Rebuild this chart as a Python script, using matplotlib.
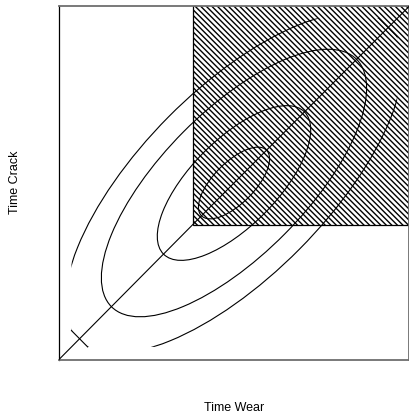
import numpy as np
import matplotlib
matplotlib.use("Agg")
import matplotlib.pyplot as plt
from matplotlib.patches import Ellipse, Rectangle, Polygon

# joint distribution of wear and crack times, drawn as 45-degree contour ellipses
center = (0.5, 0.5)
ellipse_semi_major = [0.131, 0.284, 0.494, 0.627]
ellipse_semi_minor = [0.058, 0.122, 0.204, 0.264]
contour_box = (0.037, 0.965)

# region where both times exceed the threshold
threshold_wear = 0.383
threshold_crack = 0.381


def edge_crossing(x_edge, a, b):
    """y where the rotated ellipse meets the vertical line x = x_edge, nearest the diagonal."""
    dx = x_edge - center[0]
    p, q = 1 / (2 * a * a), 1 / (2 * b * b)
    # p*(dx+dy)^2 + q*(dy-dx)^2 = 1
    roots = np.roots([p + q, 2 * dx * (p - q), dx * dx * (p + q) - 1])
    roots = roots[np.isreal(roots)].real
    dy = roots[np.argmin(np.abs(roots - dx))]
    return center[1] + dy


plt.rcParams["font.family"] = ["Liberation Sans", "DejaVu Sans"]
plt.rcParams["hatch.linewidth"] = 1.0

fig = plt.figure(figsize=(4.09, 4.17), dpi=100)
ax = fig.add_axes([58.5 / 409, 57 / 417, 351 / 409, 354 / 417])
ax.set_xlim(0, 1)
ax.set_ylim(0, 1)
ax.set_xticks([])
ax.set_yticks([])

ax.add_patch(Rectangle((threshold_wear, threshold_crack), 1.2, 1.2,
                       facecolor="white", edgecolor="black", hatch="\\" * 6,
                       linewidth=0.9, zorder=1))

lo, hi = contour_box
for i, (a, b) in enumerate(zip(ellipse_semi_major, ellipse_semi_minor)):
    e = Ellipse(center, 2 * a, 2 * b, angle=45, fill=False,
                edgecolor="black", linewidth=0.8, zorder=3)
    ax.add_patch(e)
    if i == len(ellipse_semi_major) - 1:
        # outer contour runs off the evaluated grid; its tips are single straight cell segments
        y_lo = edge_crossing(lo, a, b)
        y_hi = edge_crossing(hi, a, b)
        clip = Polygon([(lo, y_lo), (y_lo, lo), (hi, lo), (hi, y_hi), (y_hi, hi), (lo, hi)],
                       closed=True, transform=ax.transData, fill=False, visible=False)
        ax.add_patch(clip)
        e.set_clip_path(clip)
        ax.plot([lo, y_lo], [y_lo, lo], color="black", linewidth=0.8, zorder=3)
        ax.plot([hi, y_hi], [y_hi, hi], color="black", linewidth=0.8, zorder=3)

ax.plot([0, 1], [0, 1], color="black", linewidth=0.8, zorder=3)

ax.spines["left"].set_color("black")
ax.spines["left"].set_linewidth(0.9)
for side in ("top", "bottom", "right"):
    ax.spines[side].set_color("#6e6e6e")
    ax.spines[side].set_linewidth(1.3)

fig.text(234 / 409, 1 - 408 / 417, "Time Wear", ha="center", va="center", fontsize=9)
fig.text(15 / 409, 1 - 182 / 417, "Time Crack", ha="center", va="center",
         rotation=90, fontsize=9)

fig.savefig("out.png", dpi=100)
